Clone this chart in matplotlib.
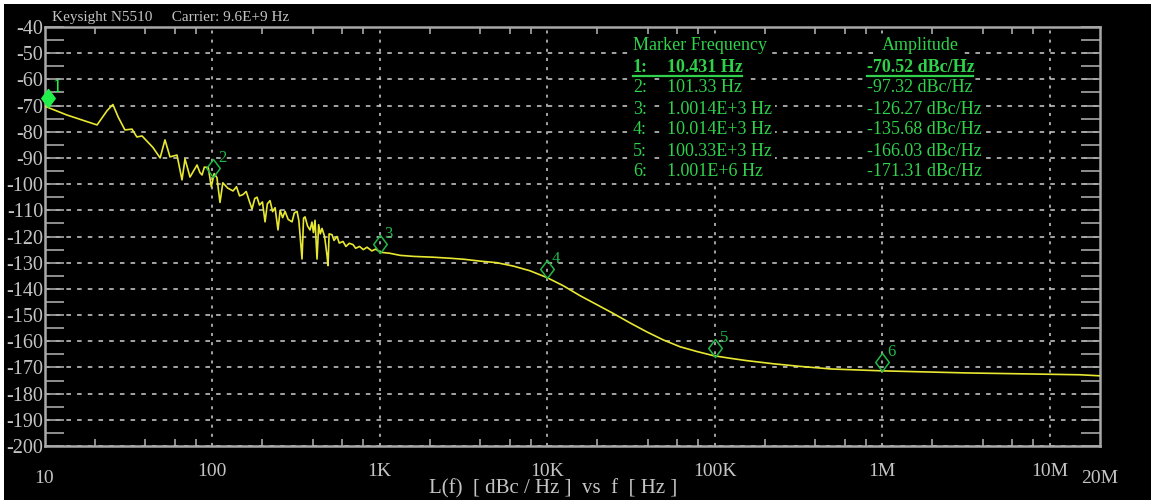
import numpy as np
import matplotlib
matplotlib.use("Agg")
import matplotlib.pyplot as plt
from matplotlib.path import Path
from matplotlib.transforms import offset_copy, blended_transform_factory
from matplotlib.lines import Line2D
from matplotlib.patches import Rectangle

plt.rcParams["axes.unicode_minus"] = False

# trace (Hz, dBc/Hz)
freq = [10.0, 13.6, 20.6, 23.6, 25.6, 27.5, 30.2, 33.3, 35.6, 38.2, 44.4, 49.0,
        52.4, 56.1, 61.8, 66.2, 69.0, 73.9, 81.4, 84.7, 87.2, 90, 95, 99,
        103, 107, 111.6, 116, 124, 133.5, 140, 146, 153, 160, 167, 173.3, 180,
        185.7, 192, 200, 207.3, 214, 222, 230, 238, 247.7, 255, 264, 272.8,
        285, 300.4, 310, 321.8, 330, 344.6, 352, 359.2, 372, 384.7, 395, 403,
        412.1, 423.6, 433, 443, 453.6, 470, 486, 492.6, 500, 520.4, 535,
        557.5, 575, 605.4, 630, 660, 694.8, 720, 760, 800, 842.1, 900, 950,
        1007, 1150, 1326, 1600, 2085, 2636, 3200, 3981, 5012, 6295, 7920,
        10000, 12500, 15740, 19800, 24880, 31300, 39360, 49450, 62230, 78300,
        98400, 123900, 155600, 224500, 323800, 500000, 1.0e6, 3.2e6, 15.2e6,
        20e6]
level = [-70.2, -73.6, -77.4, -72.0, -69.6, -74.3, -79.3, -79.0, -82.0, -81.6,
         -86.0, -90.0, -83.1, -89.6, -88.9, -98.4, -90.4, -97.3, -92.7, -95.6,
         -96.5, -93.5, -93.7, -101.0,
         -96.0, -97.5, -107.0, -99.5, -101.5, -102.6, -101.0, -104.5, -104.0,
         -102.8, -106.5, -109.5, -105.5, -105.0, -108.0, -106.8, -114.4,
         -107.5, -106.3, -110.5, -109.0, -117.5, -110.0, -112.8, -110.4,
         -113.5, -114.4, -111.0, -110.4, -114.0, -128.6, -113.0, -112.5,
         -116.0, -117.5, -114.5, -118.5, -113.8, -128.6, -115.5, -119.0,
         -116.9, -120.0, -127.3, -131.1, -119.0, -119.3, -121.5, -120.0,
         -122.5, -121.9, -123.8, -122.6, -123.1, -124.5, -123.8, -125.0,
         -124.1, -125.5, -124.8, -126.0, -126.4, -127.2, -127.6, -127.9,
         -128.3, -128.7, -129.4, -130.0, -131.3, -133.1, -135.7, -138.8,
         -142.6, -146.0, -149.4, -153.0, -156.4, -159.5, -162.1, -163.9,
         -165.5, -166.5, -167.4, -168.6, -169.6, -170.6, -171.3, -172.1,
         -172.8, -173.2]

mk_freq = [10.431, 101.33, 1001.4, 10014, 100330, 1001000]
mk_amp = [-70.52, -97.32, -126.27, -135.68, -166.03, -171.31]
mk_freq_txt = ["10.431 Hz", "101.33 Hz", "1.0014E+3 Hz", "10.014E+3 Hz",
               "100.33E+3 Hz", "1.001E+6 Hz"]
mk_amp_txt = ["-70.52 dBc/Hz", "-97.32 dBc/Hz", "-126.27 dBc/Hz",
              "-135.68 dBc/Hz", "-166.03 dBc/Hz", "-171.31 dBc/Hz"]

xticks = [100, 1e3, 1e4, 1e5, 1e6, 1e7]
xlabels = ["100", "1K", "10K", "100K", "1M", "10M"]
yticks = list(range(-200, -39, 10))

W, H = 1151, 501
fg = "#c4c4c4"
grn = "#2fd24a"
serif = ["Liberation Serif", "DejaVu Serif"]

fig = plt.figure(figsize=(W / 100, H / 100), dpi=100, facecolor="white")
fig.patches.append(Rectangle((4 / W, 1 / H), 1, 1 - 5 / H, transform=fig.transFigure,
                             facecolor="black", edgecolor="none", zorder=-10))

ax = fig.add_axes([44.5 / W, 1 - 446 / H, (1100 - 44.5) / W, (446 - 27) / H])
ax.set_facecolor("black")
ax.set_xscale("log")
ax.set_xlim(10, 20e6)
ax.set_ylim(-200, -40)

for s in ax.spines.values():
    s.set_color("#a8a8a8")
    s.set_linewidth(1.8)

ax.set_xticks(xticks)
ax.set_xticklabels(xlabels)
ax.set_xticks([m * 10 ** e for e in range(1, 8) for m in (2, 4, 6, 8)
               if m * 10 ** e < 20e6], minor=True)
ax.set_yticks(yticks)
ax.set_yticks(list(range(-195, -40, 10)), minor=True)
ax.tick_params(axis="x", which="major", direction="in", length=0, pad=12,
               colors=fg, labelsize=14, top=True)
ax.tick_params(axis="x", which="minor", direction="in", length=5, width=1.2,
               color="#a8a8a8", top=True, labelbottom=False)
ax.tick_params(axis="y", which="both", direction="in", length=14, width=1.2,
               color="#a8a8a8", right=True, labelcolor=fg, labelsize=14.5, pad=1)
for lab in ax.get_xticklabels() + ax.get_yticklabels():
    lab.set_family(serif)

ax.grid(True, which="major", axis="y", color="#d0d0d0", linestyle=(0, (3, 4)), linewidth=1.1)
ax.grid(True, which="major", axis="x", color="#d0d0d0", linestyle=(0, (2, 4)), linewidth=1.1)

bt = blended_transform_factory(ax.transData, ax.transAxes)
ax.text(10, -0.077, "10", transform=bt, ha="center", va="center", color=fg,
        fontsize=14, family=serif, clip_on=False)
ax.text(20e6, -0.077, "20M", transform=bt, ha="center", va="center", color=fg,
        fontsize=14, family=serif, clip_on=False)

ax.plot(freq, level, color="#e8e832", linewidth=1.2, zorder=3)

# markers sit a little above the trace, as on the instrument
diamond = Path([(0, 1), (0.75, 0), (0, -1), (-0.75, 0), (0, 1)],
               [Path.MOVETO, Path.LINETO, Path.LINETO, Path.LINETO, Path.CLOSEPOLY])
up = offset_copy(ax.transData, fig=fig, x=0, y=9, units="dots")
lab_tr = offset_copy(ax.transData, fig=fig, x=9, y=19, units="dots")
for i, (f, a) in enumerate(zip(mk_freq, mk_amp)):
    if i == 0:
        ax.plot(f, a, marker=diamond, markersize=13, color="#22f04a",
                transform=up, clip_on=False, zorder=5)
        ax.text(f, a, "1", transform=lab_tr, color="#22f04a", fontsize=13,
                family=serif, ha="center", va="center", clip_on=False)
    else:
        ax.plot(f, a, marker=diamond, markersize=13, markerfacecolor="none",
                markeredgecolor="#22b848", markeredgewidth=1.1, transform=up, zorder=5)
        ax.text(f, a, str(i + 1), transform=lab_tr, color="#22b848", fontsize=12,
                family=serif, ha="center", va="center")

# marker table
def fx(px):
    return px / W

def fy(py):
    return 1 - py / H

box = dict(facecolor="black", edgecolor="none", pad=2)
tkw = dict(color=grn, fontsize=13, family=serif, va="center", bbox=box)
fig.text(fx(633), fy(46), "Marker Frequency", **tkw)
fig.text(fx(882), fy(46), "Amplitude", **tkw)
rows_y = [67, 88, 109, 130, 151, 172]
for i, yy in enumerate(rows_y):
    w = "bold" if i == 0 else "normal"
    fig.text(fx(633), fy(yy), f"{i + 1}:", weight=w, **tkw)
    fig.text(fx(667), fy(yy), mk_freq_txt[i], weight=w, **tkw)
    fig.text(fx(867), fy(yy), mk_amp_txt[i], weight=w, **tkw)
fig.add_artist(Line2D([fx(633), fx(742)], [fy(75.5), fy(75.5)], color=grn,
                      linewidth=1.6, zorder=20))
fig.add_artist(Line2D([fx(867), fx(973)], [fy(75.5), fy(75.5)], color=grn,
                      linewidth=1.6, zorder=20))

fig.text(fx(52), fy(17), "Keysight N5510     Carrier: 9.6E+9 Hz", color=fg, fontsize=11,
         family=serif, va="center")
fig.text(fx(553), fy(489), "L(f)  [ dBc / Hz ]  vs  f  [ Hz ]", color=fg, fontsize=15,
         family=serif, ha="center", va="center")

fig.savefig("out.png", dpi=100, facecolor=fig.get_facecolor())
